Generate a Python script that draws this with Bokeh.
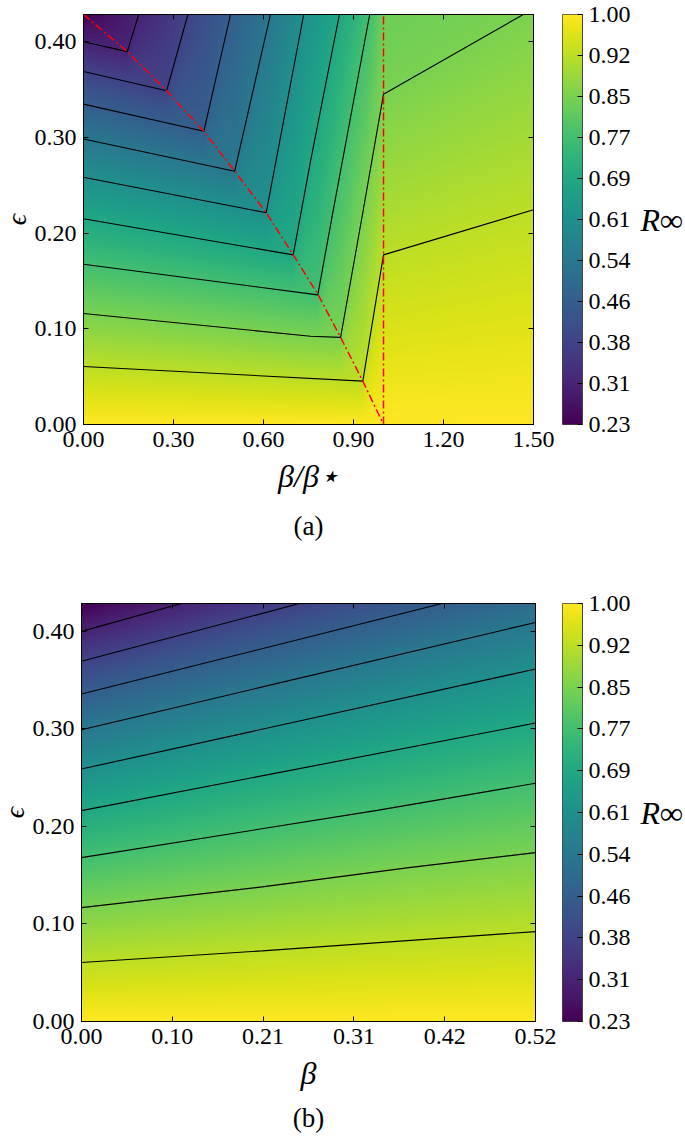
import numpy as np
from bokeh.plotting import figure
from bokeh.models import Range1d, LinearColorMapper, FixedTicker, LinearAxis, Title
from bokeh.layouts import column, row
from bokeh.palettes import Viridis256
from bokeh.embed import file_html
from bokeh.resources import INLINE

FONT = "Liberation Serif"

# ---------------- data ----------------
r_min, r_max = 0.229, 1.0
cbar_tick_labels = ["0.23", "0.31", "0.38", "0.46", "0.54", "0.61",
                    "0.69", "0.77", "0.85", "0.92", "1.00"]
contour_levels = [0.9229, 0.8458, 0.7687, 0.6916, 0.6145,
                  0.5374, 0.4603, 0.3832, 0.3061]

eps_max = 0.4286
eps_ticks = [0.0, 0.1, 0.2, 0.3, 0.4]
eps_tick_labels = ["0.00", "0.10", "0.20", "0.30", "0.40"]
bottom_r = 1.0

# panel (a): x = beta / beta_star
a_beta_max = 1.5
a_beta_ticks = [0.0, 0.3, 0.6, 0.9, 1.2, 1.5]
a_beta_tick_labels = ["0.00", "0.30", "0.60", "0.90", "1.20", "1.50"]

a_c1_beta = [0.0, 0.931, 1.0, 1.5]
a_c1_eps = [0.0606, 0.0453, 0.1773, 0.2245]
a_c2_beta = [0.0, 0.757, 0.857, 0.931, 1.0, 1.466]
a_c2_eps = [0.1161, 0.0922, 0.0911, 0.2214, 0.3453, 0.4286]
a_c3_beta = [0.0, 0.781, 0.831, 0.954]
a_c3_eps = [0.1675, 0.1355, 0.2214, 0.4286]
a_c4_beta = [0.0, 0.699, 0.757, 0.853]
a_c4_eps = [0.2151, 0.1773, 0.2755, 0.4286]
a_c5_beta = [0.0, 0.609, 0.734]
a_c5_eps = [0.2585, 0.2214, 0.4286]
a_c6_beta = [0.0, 0.504, 0.623]
a_c6_eps = [0.2984, 0.2648, 0.4286]
a_c7_beta = [0.0, 0.401, 0.490]
a_c7_eps = [0.3349, 0.3065, 0.4286]
a_c8_beta = [0.0, 0.277, 0.348]
a_c8_eps = [0.3690, 0.3488, 0.4286]
a_c9_beta = [0.0, 0.146, 0.184]
a_c9_eps = [0.4002, 0.3898, 0.4286]

a_top_corner_beta = [0.0, 1.0, 1.5]
a_top_corner_r = [0.229, 0.83, 0.85]

a_crit_beta = [0.0, 0.146, 0.277, 0.401, 0.504, 0.609, 0.699, 0.781, 0.857, 0.931, 1.0]
a_crit_eps = [0.4286, 0.3898, 0.3488, 0.3065, 0.2648, 0.2214, 0.1773, 0.1363, 0.0911, 0.0453, 0.0]
a_star_beta = 1.0

# panel (b): x = beta
b_beta_max = 0.5236
b_beta_tick_labels = ["0.00", "0.10", "0.21", "0.31", "0.42", "0.52"]

b_c1_beta = [0.0, 0.2084, 0.5236]
b_c1_eps = [0.0605, 0.0724, 0.0922]
b_c2_beta = [0.0, 0.2084, 0.3775, 0.5236]
b_c2_eps = [0.1168, 0.1380, 0.1578, 0.1732]
b_c3_beta = [0.0, 0.341, 0.5236]
b_c3_eps = [0.1680, 0.2165, 0.2443]
b_c4_beta = [0.0, 0.5236]
b_c4_eps = [0.2162, 0.3060]
b_c5_beta = [0.0, 0.5236]
b_c5_eps = [0.2589, 0.3614]
b_c6_beta = [0.0, 0.5236]
b_c6_eps = [0.2992, 0.4092]
b_c7_beta = [0.0, 0.416]
b_c7_eps = [0.3358, 0.4286]
b_c8_beta = [0.0, 0.2514]
b_c8_eps = [0.3693, 0.4286]
b_c9_beta = [0.0, 0.1153]
b_c9_eps = [0.4000, 0.4286]

b_top_corner_beta = [0.0, 0.5236]
b_top_corner_r = [0.229, 0.505]

a_curves = [(a_c1_beta, a_c1_eps), (a_c2_beta, a_c2_eps), (a_c3_beta, a_c3_eps),
            (a_c4_beta, a_c4_eps), (a_c5_beta, a_c5_eps), (a_c6_beta, a_c6_eps),
            (a_c7_beta, a_c7_eps), (a_c8_beta, a_c8_eps), (a_c9_beta, a_c9_eps)]
b_curves = [(b_c1_beta, b_c1_eps), (b_c2_beta, b_c2_eps), (b_c3_beta, b_c3_eps),
            (b_c4_beta, b_c4_eps), (b_c5_beta, b_c5_eps), (b_c6_beta, b_c6_eps),
            (b_c7_beta, b_c7_eps), (b_c8_beta, b_c8_eps), (b_c9_beta, b_c9_eps)]


# ---------------- field built from the read contours ----------------
def top_edge(curves, levels, extra_b, extra_v):
    b = list(extra_b)
    v = list(extra_v)
    for (cb, ce), L in zip(curves, levels):
        if abs(ce[-1] - eps_max) < 1e-9:
            b.append(cb[-1])
            v.append(L)
    order = np.argsort(b)
    return np.array(b)[order], np.array(v)[order]


def field(beta_max, nb, ne, curves, levels, top_b, top_v):
    bgrid = (np.arange(nb) + 0.5) / nb * beta_max
    egrid = (np.arange(ne) + 0.5) / ne * eps_max
    Z = np.empty((ne, nb))
    for i, b in enumerate(bgrid):
        pts = [(0.0, bottom_r)]
        for (cb, ce), L in zip(curves, levels):
            if cb[0] <= b <= cb[-1]:
                pts.append((float(np.interp(b, cb, ce)), L))
        pts.append((eps_max, float(np.interp(b, top_b, top_v))))
        pts.sort()
        e = np.array([p[0] for p in pts])
        v = np.array([p[1] for p in pts])
        Z[:, i] = np.interp(egrid, e, v)
    return Z


mapper = LinearColorMapper(palette=Viridis256, low=r_min, high=r_max)
cbar_ticks = list(np.linspace(r_min, r_max, len(cbar_tick_labels)))
b_beta_ticks = list(np.linspace(0.0, b_beta_max, len(b_beta_tick_labels)))


def style_axis(ax, ticks, labels, show_labels=True):
    ax.ticker = FixedTicker(ticks=ticks)
    ax.major_label_overrides = {float(t): l for t, l in zip(ticks, labels)}
    ax.major_tick_in = 5
    ax.major_tick_out = 0
    ax.minor_tick_line_color = None
    ax.axis_line_color = "black"
    ax.major_tick_line_color = "black"
    ax.major_label_text_font = FONT
    if show_labels:
        ax.major_label_text_color = "black"
        ax.major_label_text_font_size = "24px"
        ax.major_label_standoff = 7
    else:
        ax.major_label_text_color = None
        ax.major_label_text_font_size = "1px"
        ax.major_label_standoff = 0


BL = 94  # left border (>= tick labels + epsilon label)


def panel(beta_max, beta_ticks, beta_labels, curves, top_b, top_v, xlabel, caption,
          height, frame_left, b_right, b_top, frame_w, frame_h,
          xl_standoff, cap_standoff, cap_offset):
    shift = BL - frame_left
    p = figure(width=BL + frame_w + b_right, height=height,
               x_range=Range1d(0, beta_max), y_range=Range1d(0, eps_max),
               output_backend="svg", toolbar_location=None,
               x_axis_location=None, y_axis_location=None,
               min_border_left=BL, min_border_right=b_right,
               min_border_top=b_top, min_border_bottom=height - b_top - frame_h,
               margin=(0, 0, 0, -shift))
    p.grid.visible = False
    p.outline_line_color = "black"
    p.background_fill_color = "white"
    Z = field(beta_max, frame_w, frame_h, curves, contour_levels, top_b, top_v)
    p.image(image=[Z], x=0, y=0, dw=beta_max, dh=eps_max, color_mapper=mapper)
    p.multi_line(xs=[list(c[0]) for c in curves], ys=[list(c[1]) for c in curves],
                 line_color="black", line_width=1.1)

    bottom = LinearAxis()
    style_axis(bottom, beta_ticks, beta_labels)
    bottom.axis_label = xlabel
    bottom.axis_label_text_font = FONT
    bottom.axis_label_text_font_style = "italic"
    bottom.axis_label_text_font_size = "32px"
    bottom.axis_label_text_color = "black"
    bottom.axis_label_standoff = xl_standoff
    p.add_layout(bottom, "below")

    left = LinearAxis()
    style_axis(left, eps_ticks, eps_tick_labels)
    left.axis_label = "ϵ"
    left.axis_label_text_font = FONT
    left.axis_label_text_font_style = "italic"
    left.axis_label_text_font_size = "28px"
    left.axis_label_text_color = "black"
    left.axis_label_standoff = 0
    p.add_layout(left, "left")

    top = LinearAxis()
    style_axis(top, beta_ticks, beta_labels, show_labels=False)
    p.add_layout(top, "above")
    right = LinearAxis()
    style_axis(right, eps_ticks, eps_tick_labels, show_labels=False)
    p.add_layout(right, "right")

    p.add_layout(Title(text=caption, align="center", text_font=FONT,
                       text_font_style="normal", text_font_size="27px",
                       text_color="black", standoff=cap_standoff,
                       offset=cap_offset), "below")
    return p


def colorbar(height, b_top, frame_h):
    cb = figure(width=128, height=height, x_range=Range1d(0, 1),
                y_range=Range1d(r_min, r_max), output_backend="svg",
                toolbar_location=None, x_axis_location=None, y_axis_location=None,
                min_border_left=5, min_border_right=103, min_border_top=b_top,
                min_border_bottom=height - b_top - frame_h)
    cb.grid.visible = False
    cb.outline_line_color = "#444444"
    grad = np.linspace(r_min, r_max, 256).reshape(256, 1)
    cb.image(image=[grad], x=0, y=r_min, dw=1, dh=r_max - r_min, color_mapper=mapper)
    ax = LinearAxis()
    style_axis(ax, cbar_ticks, cbar_tick_labels)
    ax.major_label_standoff = 6
    ax.axis_line_color = "#444444"
    ax.axis_label = "R∞"
    ax.axis_label_orientation = "horizontal"
    ax.axis_label_text_font = FONT
    ax.axis_label_text_font_style = "italic"
    ax.axis_label_text_font_size = "32px"
    ax.axis_label_text_color = "black"
    ax.axis_label_standoff = 7
    cb.add_layout(ax, "right")
    return cb


a_top_b, a_top_v = top_edge(a_curves, contour_levels, a_top_corner_beta, a_top_corner_r)
b_top_b, b_top_v = top_edge(b_curves, contour_levels, b_top_corner_beta, b_top_corner_r)

# panel (a): rows 0..589, frame x 83..533, y 14..424
pa = panel(a_beta_max, a_beta_ticks, a_beta_tick_labels, a_curves, a_top_b, a_top_v,
           "β/β⋆", "(a)", 589, 83, 24, 14, 450, 410, 8, 24, 11)
pa.line(a_crit_beta, a_crit_eps, line_color="red", line_width=1.5, line_dash="8 3 2 3")
pa.line([a_star_beta, a_star_beta], [0.0, eps_max], line_color="red", line_width=1.5,
        line_dash="8 3 2 3")
cba = colorbar(589, 14, 410)

# panel (b): rows 589..1139, frame x 81..535, y 603..1021
pb = panel(b_beta_max, b_beta_ticks, b_beta_tick_labels, b_curves, b_top_b, b_top_v,
           "β", "(b)", 550, 81, 22, 14, 454, 418, 8, 14, 9)
cbb = colorbar(550, 14, 418)

layout = column(row(pa, cba), row(pb, cbb))
open("out.html", "w").write(file_html(layout, INLINE))
